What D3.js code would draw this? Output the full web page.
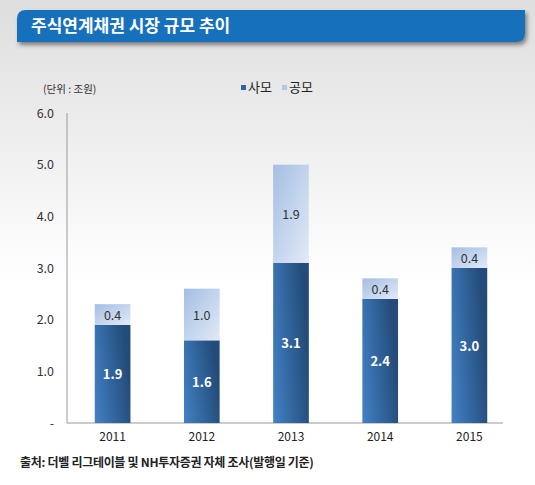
<!DOCTYPE html>
<html><head><meta charset="utf-8">
<script src="https://cdn.jsdelivr.net/npm/d3@7/dist/d3.min.js"></script>
<style>body{margin:0;padding:0;overflow:hidden}svg{display:block}text{font-family:"Noto Sans CJK KR","Noto Sans",sans-serif}</style>
</head><body>
<script>
const years = ["2011","2012","2013","2014","2015"];
const privateVals = [1.9,1.6,3.1,2.4,3.0];
const publicVals = [0.4,1.0,1.9,0.4,0.4];
const yTicks = [0,1,2,3,4,5,6];
const yTickLabels = ["-","1.0","2.0","3.0","4.0","5.0","6.0"];
const seriesNames = ["사모","공모"];
const titleText = "주식연계채권 시장 규모 추이";
const unitText = "(단위 : 조원)";
const sourceText = "출처: 더벨 리그테이블 및 NH투자증권 자체 조사(발행일 기준)";

const W=535,H=485;
const svg=d3.select("body").append("svg").attr("width",W).attr("height",H);
const defs=svg.append("defs");
const bg=defs.append("linearGradient").attr("id","bg").attr("x1",0).attr("y1",0).attr("x2",0).attr("y2",1);
bg.append("stop").attr("offset","0%").attr("stop-color","#dedede");
bg.append("stop").attr("offset","58%").attr("stop-color","#ffffff");
bg.append("stop").attr("offset","100%").attr("stop-color","#ffffff");
const gd=defs.append("linearGradient").attr("id","gd").attr("x1",0).attr("y1",1).attr("x2",1).attr("y2",0.7);
gd.append("stop").attr("offset","0%").attr("stop-color","#4282c6");
gd.append("stop").attr("offset","100%").attr("stop-color","#244c7a");
const gl=defs.append("linearGradient").attr("id","gl").attr("x1",0).attr("y1",0).attr("x2",1).attr("y2",1);
gl.append("stop").attr("offset","0%").attr("stop-color","#a4bee4");
gl.append("stop").attr("offset","100%").attr("stop-color","#e2eaf6");
const sh=defs.append("filter").attr("id","sh").attr("x","-5%").attr("y","-30%").attr("width","115%").attr("height","190%");
sh.append("feDropShadow").attr("dx",2).attr("dy",3).attr("stdDeviation",2).attr("flood-color","#000").attr("flood-opacity",0.45);

svg.append("rect").attr("width",W).attr("height",H).attr("fill","url(#bg)");

// title bar
const x0=17,x1=525,y0=10,y1=42,r=9;
svg.append("path").attr("d",`M${x0},${y0+r} Q${x0},${y0} ${x0+r},${y0} L${x1},${y0} L${x1},${y1-r} Q${x1},${y1} ${x1-r},${y1} L${x0},${y1} Z`)
  .attr("fill","#136fbb").attr("filter","url(#sh)");
svg.append("text").attr("x",31).attr("y",32).attr("fill","#fff").attr("font-size",17).attr("font-weight","bold").text(titleText);

const y=d3.scaleLinear().domain([0,6]).range([423,113]);
const x=d3.scaleBand().domain(years).range([68,514]).paddingInner(0.6).paddingOuter(0.3);

// axes
svg.append("line").attr("x1",67).attr("x2",67).attr("y1",y(6)).attr("y2",y(0)).attr("stroke","#9a9a9a");
svg.append("line").attr("x1",67).attr("x2",503).attr("y1",y(0)).attr("y2",y(0)).attr("stroke","#9a9a9a");
const yAxis=d3.axisLeft(y).tickValues(yTicks).tickFormat((d,i)=>yTickLabels[i]).tickSize(0).tickPadding(13);
const ga=svg.append("g").attr("transform","translate(67,0)").call(yAxis);
ga.select(".domain").remove();
ga.selectAll("text").attr("font-size",12.5).attr("fill","#333").style("font-family","'Noto Sans CJK KR'");

const xAxis=d3.axisBottom(x).tickSize(0).tickPadding(9);
const gx=svg.append("g").attr("transform",`translate(0,${y(0)})`).call(xAxis);
gx.select(".domain").remove();
gx.selectAll("text").attr("font-size",12).attr("fill","#222").style("font-family","'Noto Sans CJK KR'");

// bars
const data=years.map((yr,i)=>({yr,a:privateVals[i],b:publicVals[i]}));
const g=svg.append("g");
g.selectAll(".d").data(data).join("rect").attr("x",d=>x(d.yr)).attr("width",x.bandwidth())
  .attr("y",d=>y(d.a)).attr("height",d=>y(0)-y(d.a)).attr("fill","url(#gd)");
g.selectAll(".l").data(data).join("rect").attr("x",d=>x(d.yr)).attr("width",x.bandwidth())
  .attr("y",d=>y(d.a+d.b)).attr("height",d=>y(d.a)-y(d.a+d.b)).attr("fill","url(#gl)");
g.selectAll(".dt").data(data).join("text").attr("x",d=>x(d.yr)+x.bandwidth()/2).attr("y",d=>(y(d.a)+y(0))/2+5)
  .attr("text-anchor","middle").attr("fill","#fff").attr("font-weight","bold").attr("font-size",13).text(d=>d.a.toFixed(1));
g.selectAll(".lt").data(data).join("text").attr("x",d=>x(d.yr)+x.bandwidth()/2).attr("y",d=>(y(d.a)+y(d.a+d.b))/2+5)
  .attr("text-anchor","middle").attr("fill","#333").attr("font-size",12.5).text(d=>d.b.toFixed(1));

// legend
const lg=svg.append("g");
lg.append("rect").attr("x",241).attr("y",85).attr("width",5).attr("height",5).attr("fill","#2f65a3");
lg.append("text").attr("x",248).attr("y",92).attr("font-size",13).attr("fill","#222").text(seriesNames[0]);
lg.append("rect").attr("x",282).attr("y",85).attr("width",5).attr("height",5).attr("fill","#b3c8e8");
lg.append("text").attr("x",289).attr("y",92).attr("font-size",13).attr("fill","#222").text(seriesNames[1]);

svg.append("text").attr("x",43).attr("y",93).attr("font-size",10.5).attr("fill","#333").text(unitText);
svg.append("text").attr("x",20).attr("y",467).attr("font-size",12).attr("font-weight","bold").attr("fill","#222").attr("letter-spacing",-0.3).text(sourceText);
</script>
</body></html>
